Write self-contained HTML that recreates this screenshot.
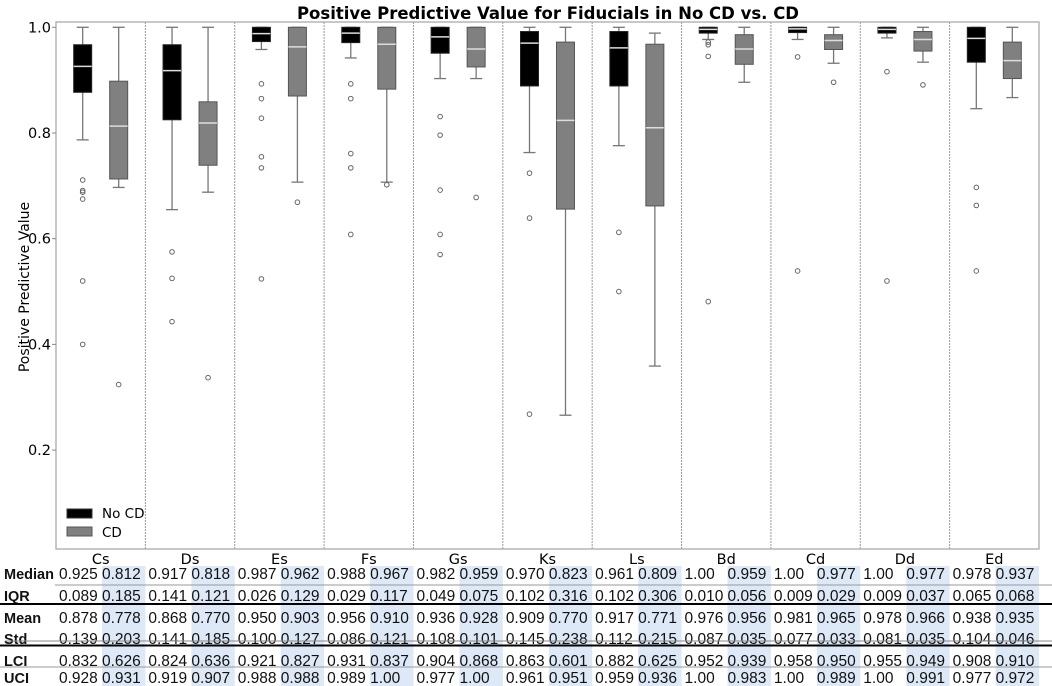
<!DOCTYPE html>
<html><head><meta charset="utf-8"><style>
body{margin:0;background:#fff;}
svg{display:block;}
.t{font-family:"DejaVu Sans","Liberation Sans",sans-serif;}
.tb{font-family:"Liberation Sans",sans-serif;font-size:15.5px;fill:#111;}
.lb{font-family:"Liberation Sans",sans-serif;font-size:14.5px;font-weight:bold;fill:#111;}
</style></head><body>
<svg id="chart" width="1052" height="686" viewBox="0 0 1052 686">
<g id="tablebg"></g>
<g id="grid"></g>
<g id="boxes"></g>
<g id="axes"></g>
<g id="table"></g>
<text class="t" x="548" y="19" text-anchor="middle" font-weight="bold" font-size="16.5">Positive Predictive Value for Fiducials in No CD vs. CD</text>
<text class="t" transform="translate(29,287) rotate(-90)" text-anchor="middle" font-size="14">Positive Predictive Value</text>
<g>
<rect x="67" y="509" width="25" height="9" fill="#000" stroke="#333"/>
<text class="t" x="102" y="518" font-size="13.5">No CD</text>
<rect x="67" y="527" width="25" height="9" fill="#808080" stroke="#555"/>
<text class="t" x="102" y="537" font-size="13.5">CD</text>
</g>
</svg>
<script>
const categories=["Cs","Ds","Es","Fs","Gs","Ks","Ls","Bd","Cd","Dd","Ed"];
const noCdLow=[0.787,0.655,0.958,0.942,0.903,0.763,0.776,0.977,0.977,0.980,0.846];
const noCdQ1=[0.877,0.825,0.973,0.971,0.951,0.889,0.889,0.989,0.990,0.989,0.934];
const noCdMed=[0.926,0.918,0.988,0.989,0.982,0.970,0.961,0.996,0.997,0.996,0.979];
const noCdQ3=[0.967,0.967,1.0,1.0,1.0,0.992,0.992,1.0,1.0,1.0,1.0];
const noCdHigh=[1.0,1.0,1.0,1.0,1.0,1.0,1.0,1.0,1.0,1.0,1.0];
const noCdOut=[[0.711,0.691,0.688,0.675,0.52,0.40],[0.575,0.525,0.443],[0.893,0.865,0.828,0.755,0.734,0.524],[0.893,0.865,0.761,0.734,0.608],[0.831,0.796,0.692,0.608,0.570],[0.724,0.639,0.268],[0.612,0.500],[0.972,0.967,0.945,0.481],[0.944,0.539],[0.916,0.520],[0.697,0.663,0.539]];
const cdLow=[0.697,0.688,0.707,0.707,0.903,0.266,0.359,0.896,0.932,0.934,0.867];
const cdQ1=[0.713,0.739,0.870,0.883,0.925,0.656,0.662,0.930,0.958,0.955,0.903];
const cdMed=[0.813,0.819,0.963,0.968,0.959,0.824,0.810,0.959,0.975,0.977,0.937];
const cdQ3=[0.898,0.859,1.0,1.0,1.0,0.972,0.968,0.986,0.986,0.992,0.972];
const cdHigh=[1.0,1.0,1.0,1.0,1.0,1.0,0.989,1.0,1.0,1.0,1.0];
const cdOut=[[0.324],[0.337],[0.669],[0.702],[0.678],[],[],[],[0.896],[0.891],[]];
const yTicks=[0.2,0.4,0.6,0.8,1.0];
const rowLabels=["Median","IQR","Mean","Std","LCI","UCI"];
const tMedian=["0.925","0.812","0.917","0.818","0.987","0.962","0.988","0.967","0.982","0.959","0.970","0.823","0.961","0.809","1.00","0.959","1.00","0.977","1.00","0.977","0.978","0.937"];
const tIQR=["0.089","0.185","0.141","0.121","0.026","0.129","0.029","0.117","0.049","0.075","0.102","0.316","0.102","0.306","0.010","0.056","0.009","0.029","0.009","0.037","0.065","0.068"];
const tMean=["0.878","0.778","0.868","0.770","0.950","0.903","0.956","0.910","0.936","0.928","0.909","0.770","0.917","0.771","0.976","0.956","0.981","0.965","0.978","0.966","0.938","0.935"];
const tStd=["0.139","0.203","0.141","0.185","0.100","0.127","0.086","0.121","0.108","0.101","0.145","0.238","0.112","0.215","0.087","0.035","0.077","0.033","0.081","0.035","0.104","0.046"];
const tLCI=["0.832","0.626","0.824","0.636","0.921","0.827","0.931","0.837","0.904","0.868","0.863","0.601","0.882","0.625","0.952","0.939","0.958","0.950","0.955","0.949","0.908","0.910"];
const tUCI=["0.928","0.931","0.919","0.907","0.988","0.988","0.989","1.00","0.977","1.00","0.961","0.951","0.959","0.936","1.00","0.983","1.00","0.989","1.00","0.991","0.977","0.972"];

const NS="http://www.w3.org/2000/svg";
const L=56,R=1039,T=22,B=549;
const gw=(R-L)/categories.length;
const y=v=>27.3+(1-v)*528.5;
const gx=i=>L+gw*i;
function mk(parent,tag,attrs){const e=document.createElementNS(NS,tag);for(const k in attrs)e.setAttribute(k,attrs[k]);parent.appendChild(e);return e;}
const gBg=document.getElementById('tablebg'),gGrid=document.getElementById('grid'),gBox=document.getElementById('boxes'),gAx=document.getElementById('axes'),gTab=document.getElementById('table');

categories.forEach((c,i)=>{
  const r=mk(gBg,'rect',{x:gx(i)+46,y:566,width:gw-46,height:120,fill:'#dde9f6'});
  
  
});
for(let i=1;i<categories.length;i++){
  const l=mk(gGrid,'line',{x1:gx(i),x2:gx(i),y1:T,y2:B,stroke:'#999','stroke-width':1,'stroke-dasharray':'2,1'});
  
  
}
function drawBox(i,off,low,q1,med,q3,high,outs,fill,edge,name){
  const cx=gx(i)+gw/2+off,w=18;
  const g=mk(gBox,'g',{});
  
  
  mk(g,'line',{x1:cx,x2:cx,y1:y(high),y2:y(q3),stroke:'#777','stroke-width':1.3});
  mk(g,'line',{x1:cx,x2:cx,y1:y(q1),y2:y(low),stroke:'#777','stroke-width':1.3});
  mk(g,'line',{x1:cx-6,x2:cx+6,y1:y(high),y2:y(high),stroke:'#777','stroke-width':1.3});
  mk(g,'line',{x1:cx-6,x2:cx+6,y1:y(low),y2:y(low),stroke:'#777','stroke-width':1.3});
  mk(g,'rect',{x:cx-w/2,y:y(q3),width:w,height:Math.max(1,y(q1)-y(q3)),fill:fill,stroke:edge,'stroke-width':1});
  mk(g,'line',{x1:cx-w/2,x2:cx+w/2,y1:y(med),y2:y(med),stroke:'#ddd','stroke-width':1.5});
  outs.forEach(o=>{
    const c=mk(g,'circle',{cx:cx,cy:y(o),r:2.3,fill:'none',stroke:'#666','stroke-width':1});
    
    
  });
}
categories.forEach((c,i)=>{
  drawBox(i,-18,noCdLow[i],noCdQ1[i],noCdMed[i],noCdQ3[i],noCdHigh[i],noCdOut[i],'#000','#222','box-nocd-'+c.toLowerCase());
  drawBox(i,18,cdLow[i],cdQ1[i],cdMed[i],cdQ3[i],cdHigh[i],cdOut[i],'#808080','#555','box-cd-'+c.toLowerCase());
  const t=mk(gAx,'text',{x:gx(i)+gw/2,y:564,'text-anchor':'middle','font-size':14.5,class:'t'});
  t.textContent=c;
  
  
});
mk(gAx,'rect',{x:L,y:T,width:R-L,height:B-T,fill:'none',stroke:'#aaa','stroke-width':1.3});
yTicks.forEach(v=>{
  mk(gAx,'line',{x1:L-4,x2:L,y1:y(v),y2:y(v),stroke:'#888'});
  const t=mk(gAx,'text',{x:L-5,y:y(v)+5,'text-anchor':'end','font-size':14.5,class:'t'});
  t.textContent=v.toFixed(1);
  
  
});
const rows=[tMedian,tIQR,tMean,tStd,tLCI,tUCI];
const rowY=[579,601,623,644,666,683];
rows.forEach((vals,r)=>{
  const lab=mk(gTab,'text',{x:4,y:rowY[r],class:'lb'});
  lab.textContent=rowLabels[r];
  
  
  vals.forEach((v,k)=>{
    const i=Math.floor(k/2),cd=k%2;
    const t=mk(gTab,'text',{x:gx(i)+(cd?46:3),y:rowY[r],class:'tb'});
    t.textContent=v;
    
    
  });
});
[[585,'#999',1,55],[604,'#000',2,0],[641,'#888',1,5],[645.5,'#000',2,0],[667,'#999',1,0]].forEach(a=>{
  const l=mk(gTab,'line',{x1:a[3],x2:1052,y1:a[0],y2:a[0],stroke:a[1],'stroke-width':a[2]});
  
  
});
</script>
</body></html>
